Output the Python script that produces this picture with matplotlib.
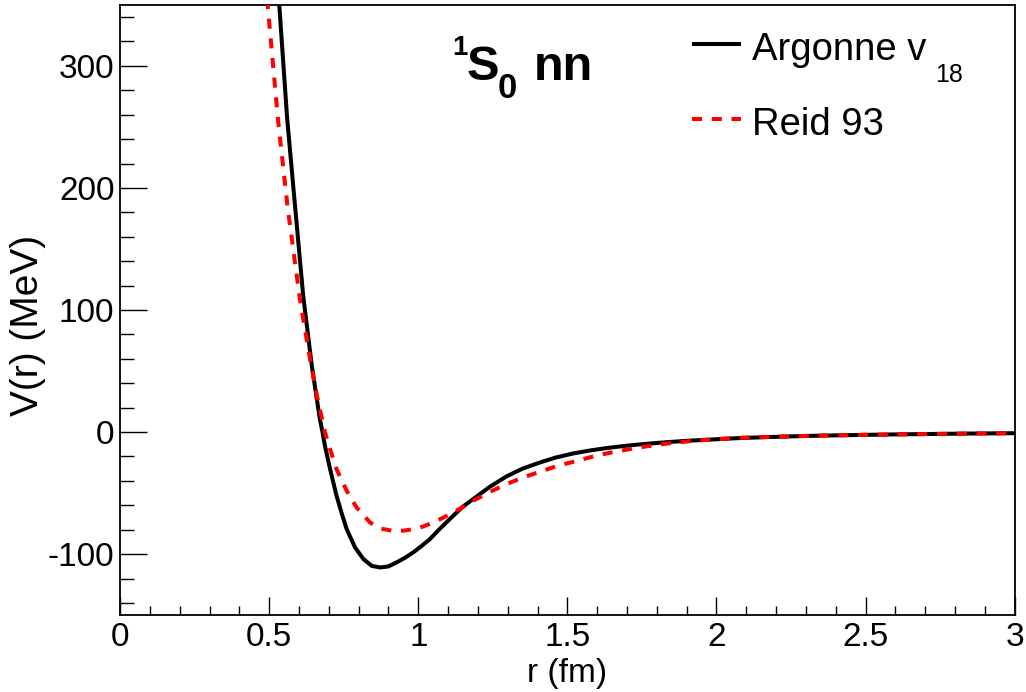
import numpy as np
import matplotlib
matplotlib.use('Agg')
import matplotlib.pyplot as plt
from matplotlib.ticker import MultipleLocator, FuncFormatter

plt.rcParams['font.family'] = ['Liberation Sans', 'DejaVu Sans']
plt.rcParams['axes.unicode_minus'] = False

# 1S0 nn potential, r in fm, V in MeV
r_av18 = [0.520, 0.534, 0.560, 0.585, 0.614, 0.643, 0.670, 0.679, 0.687, 0.704,
          0.726, 0.745, 0.760, 0.788, 0.816, 0.844, 0.872, 0.899, 0.927, 0.955,
          0.983, 1.010, 1.039, 1.073, 1.117, 1.150, 1.184, 1.240, 1.296, 1.350,
          1.408, 1.460, 1.520, 1.575, 1.631, 1.690, 1.743, 1.800, 1.855, 1.910,
          1.967, 2.020, 2.078, 2.170, 2.250, 2.350, 2.469, 2.600, 2.700, 2.850,
          3.000]
v_av18 = [400.0, 349.6, 258.0, 190.0, 112.0, 54.4, 10.7, 0.0, -11.2, -30.0,
          -52.2, -68.0, -79.5, -94.5, -104.0, -109.6, -110.9, -110.1, -106.8, -103.0,
          -98.6, -93.5, -87.7, -79.0, -68.6, -61.0, -54.9, -44.8, -36.3, -29.9,
          -24.9, -20.9, -17.5, -15.1, -13.1, -11.4, -10.1, -8.9, -7.9, -7.0,
          -6.3, -5.6, -4.9, -4.1, -3.5, -2.9, -2.4, -1.9, -1.6, -1.2,
          -0.9]

r_reid = [0.480, 0.495, 0.530, 0.562, 0.603, 0.637, 0.660, 0.687, 0.704, 0.726,
          0.760, 0.793, 0.838, 0.872, 0.916, 0.950, 0.983, 1.017, 1.050, 1.083,
          1.117, 1.150, 1.184, 1.240, 1.296, 1.350, 1.408, 1.460, 1.520, 1.575,
          1.631, 1.690, 1.743, 1.800, 1.855, 1.910, 1.967, 2.020, 2.078, 2.170,
          2.250, 2.350, 2.469, 2.600, 2.700, 2.850, 3.000]
v_reid = [395.0, 349.6, 255.0, 184.0, 109.0, 59.8, 30.0, 0.0, -13.9, -30.3,
          -48.1, -61.7, -74.0, -79.0, -80.9, -80.8, -79.5, -77.3, -74.0, -70.2,
          -65.8, -61.3, -56.3, -49.0, -42.6, -37.3, -32.5, -28.2, -24.3, -20.7,
          -17.5, -14.8, -12.5, -10.5, -8.8, -7.5, -6.3, -5.5, -4.7, -4.0,
          -3.4, -2.9, -2.4, -1.9, -1.6, -1.2, -0.9]

LW = 2.9

fig = plt.figure(figsize=(10.26, 6.92), dpi=100)
ax = fig.add_axes([0.117, 0.111, 0.872, 0.882])

ax.plot(r_av18, v_av18, color='black', lw=LW, solid_capstyle='butt',
        solid_joinstyle='round', zorder=3)
ax.plot(r_reid, v_reid, color='red', lw=LW, dashes=(2.5, 2.4), zorder=4)

ax.set_xlim(0, 3)
ax.set_ylim(-150, 350)

ax.xaxis.set_major_locator(MultipleLocator(0.5))
ax.xaxis.set_minor_locator(MultipleLocator(0.1))
ax.yaxis.set_major_locator(MultipleLocator(100))
ax.yaxis.set_minor_locator(MultipleLocator(20))
ax.xaxis.set_major_formatter(FuncFormatter(lambda v, p: '%g' % v))
ax.yaxis.set_major_formatter(FuncFormatter(lambda v, p: '%g' % v))

ax.tick_params(axis='both', which='both', direction='in', top=False, right=False,
               width=1.0, labelsize=24)
ax.tick_params(axis='x', which='major', length=13, pad=5)
ax.tick_params(axis='x', which='minor', length=6.5)
ax.tick_params(axis='y', which='major', length=19.5, pad=4)
ax.tick_params(axis='y', which='minor', length=10)
for sp in ax.spines.values():
    sp.set_linewidth(1.3)

ax.set_xlabel('r (fm)', fontsize=24)
ax.set_ylabel('V(r) (MeV)', fontsize=28)
ax.xaxis.set_label_coords(0.5, -0.07)
ax.yaxis.set_label_coords(-0.083, 0.474)

# channel label
ax.text(0.371, 0.918, '1', transform=ax.transAxes, fontsize=20, fontweight='bold')
ax.text(0.387, 0.877, 'S', transform=ax.transAxes, fontsize=35, fontweight='bold')
ax.text(0.422, 0.848, '0', transform=ax.transAxes, fontsize=25, fontweight='bold')
ax.text(0.462, 0.877, 'nn', transform=ax.transAxes, fontsize=35, fontweight='bold')

# legend
ax.plot([0.639, 0.694], [0.936, 0.936], transform=ax.transAxes, color='black',
        lw=LW, solid_capstyle='butt')
ax.plot([0.639, 0.694], [0.813, 0.813], transform=ax.transAxes, color='red',
        lw=LW, dashes=(2.5, 2.4))
ax.text(0.706, 0.910, 'Argonne v', transform=ax.transAxes, fontsize=27.5)
ax.text(0.911, 0.874, '18', transform=ax.transAxes, fontsize=18)
ax.text(0.706, 0.787, 'Reid 93', transform=ax.transAxes, fontsize=27.5)

fig.savefig('out.png', dpi=100)
